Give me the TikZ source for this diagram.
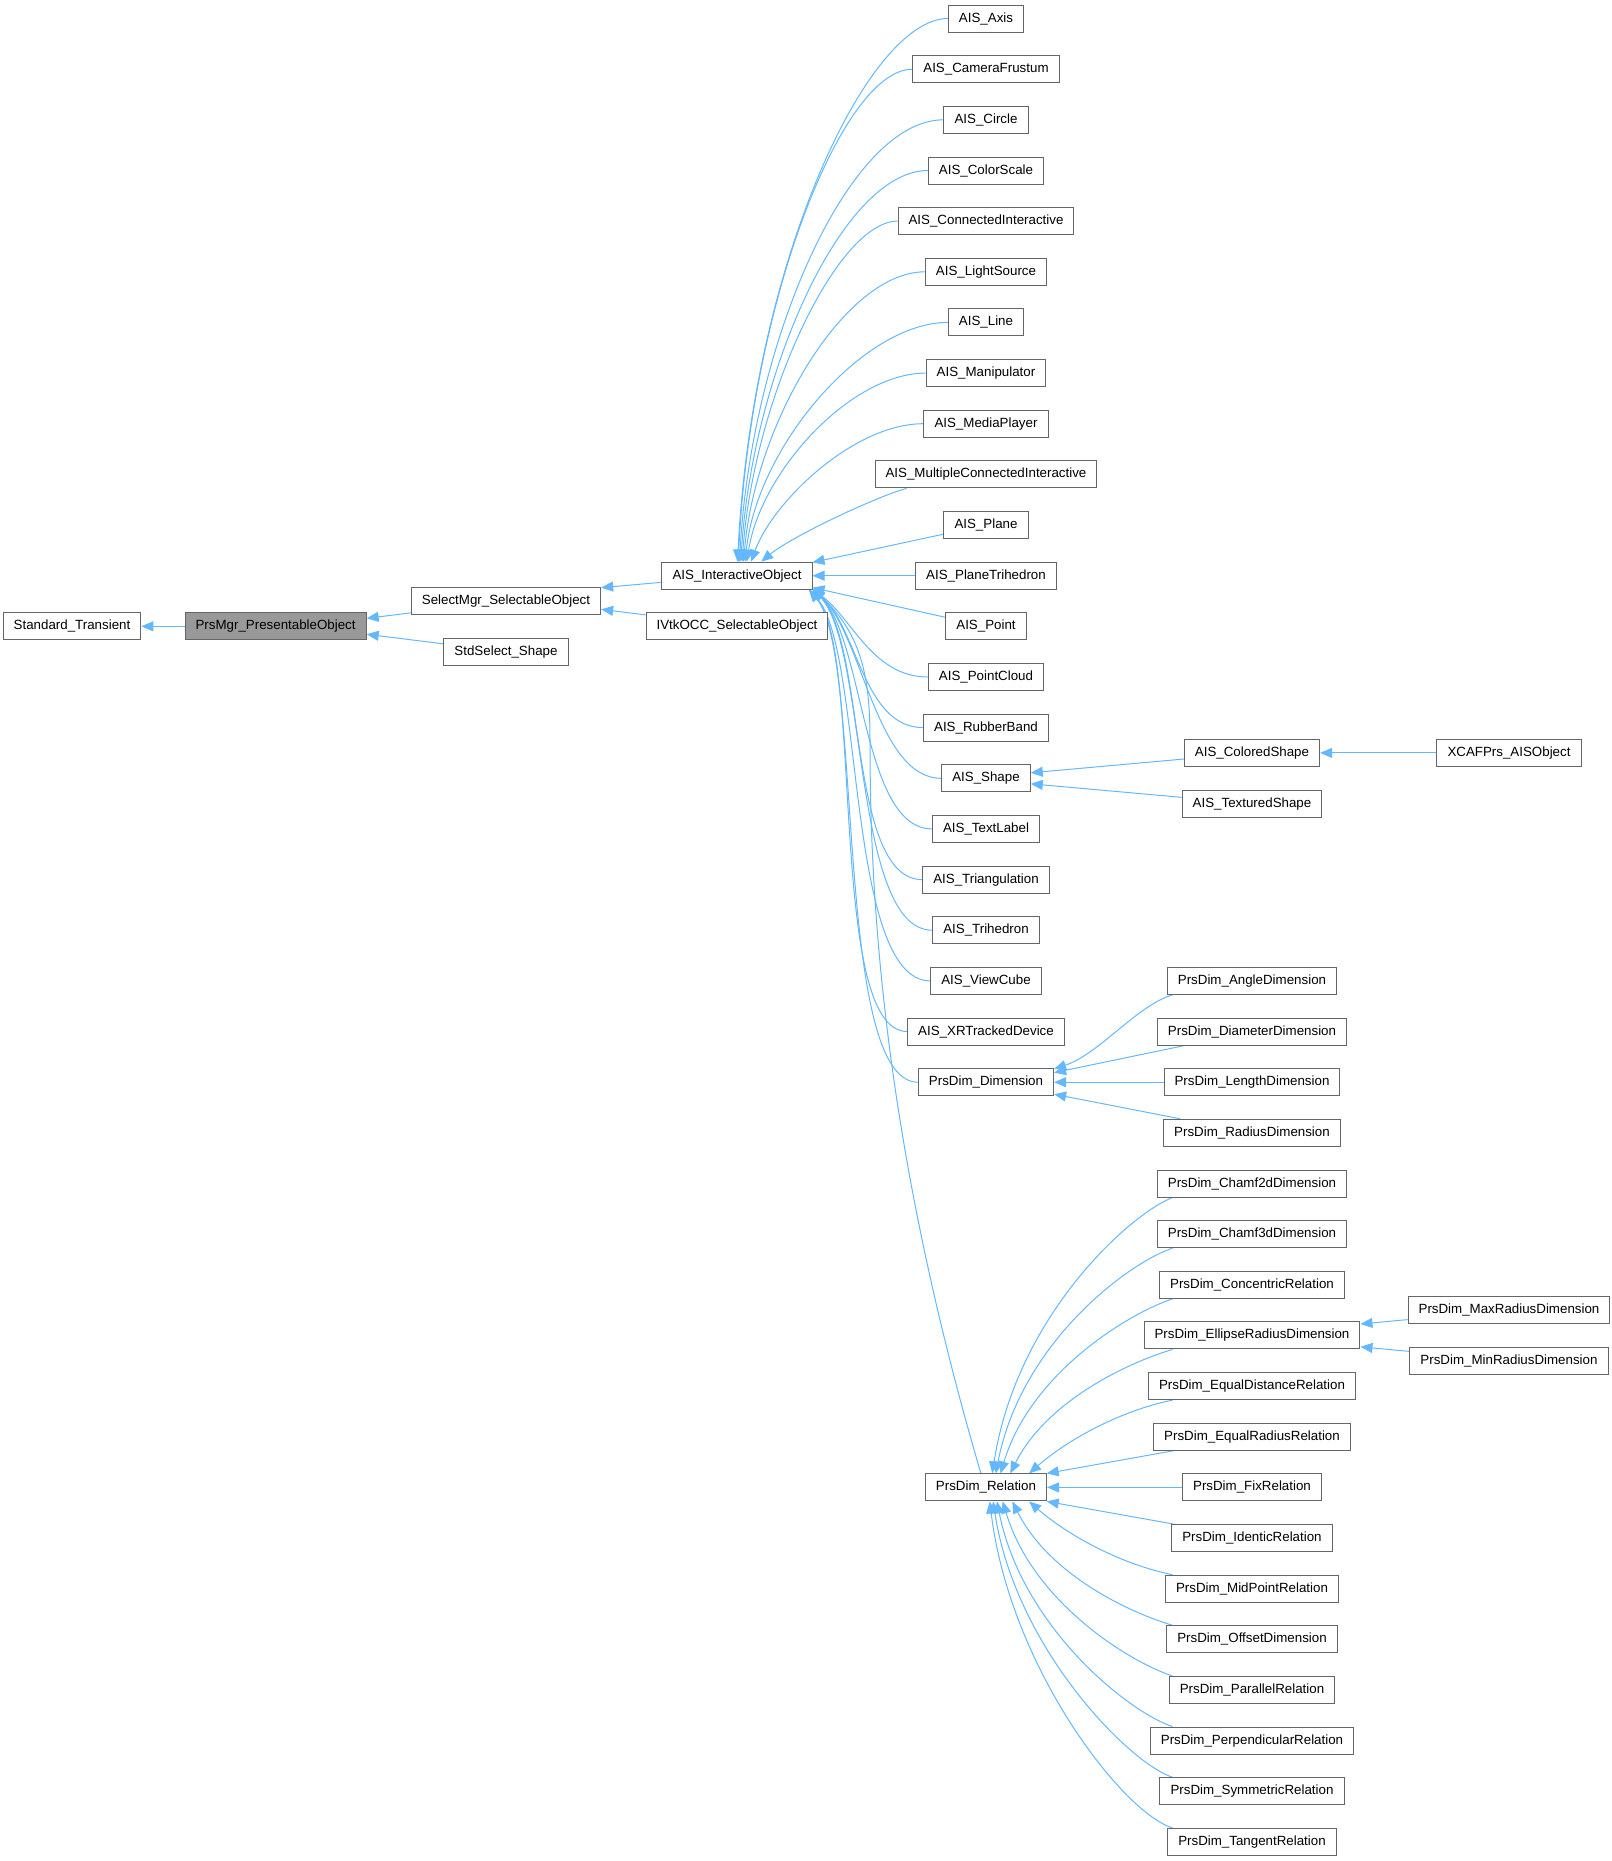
\documentclass[tikz,border=0pt]{standalone}
\usepackage{fontspec}
\setmainfont{Liberation Sans}
\usetikzlibrary{arrows.meta,backgrounds}
\definecolor{boxgray}{HTML}{666666}
\definecolor{focusgray}{HTML}{999999}
\definecolor{edgeblue}{HTML}{63B8FF}

\begin{document}
\begin{tikzpicture}[x=0.75pt,y=-0.75pt,
  cls/.style={draw=boxgray, line width=0.75pt, fill=white, minimum height=20.25pt,
    inner xsep=7.9pt, inner ysep=0pt, font=\fontsize{10}{12}\selectfont},
  focus/.style={cls, fill=focusgray},
  inh/.style={draw=edgeblue, line width=0.75pt, -{Triangle[length=9pt,width=7.5pt]}}]
\useasboundingbox (0,0) rectangle (1612,1861);

% left part
\node[cls] (st) at (72,626.3) {Standard\_Transient};
\node[focus] (prs) at (275.6,626.3) {PrsMgr\_PresentableObject};
\node[cls] (sel) at (506,601.0) {SelectMgr\_SelectableObject};
\node[cls] (ssh) at (506,651.6) {StdSelect\_Shape};
\node[cls] (aisio) at (737,575.7) {AIS\_InteractiveObject};
\node[cls] (ivtk) at (737,626.3) {IVtkOCC\_SelectableObject};

% AIS classes
\node[cls] (axis) at (986,18.5) {AIS\_Axis};
\node[cls] (cam) at (986,69.2) {AIS\_CameraFrustum};
\node[cls] (circ) at (986,119.8) {AIS\_Circle};
\node[cls] (cscale) at (986,170.5) {AIS\_ColorScale};
\node[cls] (conn) at (986,221.1) {AIS\_ConnectedInteractive};
\node[cls] (light) at (986,271.8) {AIS\_LightSource};
\node[cls] (line) at (986,322.4) {AIS\_Line};
\node[cls] (manip) at (986,373.1) {AIS\_Manipulator};
\node[cls] (media) at (986,423.7) {AIS\_MediaPlayer};
\node[cls] (mconn) at (986,474.4) {AIS\_MultipleConnectedInteractive};
\node[cls] (plane) at (986,525.0) {AIS\_Plane};
\node[cls] (ptri) at (986,575.7) {AIS\_PlaneTrihedron};
\node[cls] (point) at (986,626.3) {AIS\_Point};
\node[cls] (pcloud) at (986,677.0) {AIS\_PointCloud};
\node[cls] (rband) at (986,727.6) {AIS\_RubberBand};
\node[cls] (shape) at (986,778.3) {AIS\_Shape};
\node[cls] (tlabel) at (986,828.9) {AIS\_TextLabel};
\node[cls] (triang) at (986,879.6) {AIS\_Triangulation};
\node[cls] (trih) at (986,930.2) {AIS\_Trihedron};
\node[cls] (vcube) at (986,980.9) {AIS\_ViewCube};
\node[cls] (xrdev) at (986,1031.5) {AIS\_XRTrackedDevice};
\node[cls] (dim) at (986,1082.2) {PrsDim\_Dimension};
\node[cls] (rel) at (986,1487.4) {PrsDim\_Relation};

% next level
\node[cls] (cshape) at (1252,752.9) {AIS\_ColoredShape};
\node[cls] (tshape) at (1252,803.6) {AIS\_TexturedShape};
\node[cls] (angdim) at (1252,980.9) {PrsDim\_AngleDimension};
\node[cls] (diadim) at (1252,1031.5) {PrsDim\_DiameterDimension};
\node[cls] (lendim) at (1252,1082.2) {PrsDim\_LengthDimension};
\node[cls] (raddim) at (1252,1132.8) {PrsDim\_RadiusDimension};
\node[cls] (chamf2) at (1252,1183.5) {PrsDim\_Chamf2dDimension};
\node[cls] (chamf3) at (1252,1234.1) {PrsDim\_Chamf3dDimension};
\node[cls] (conc) at (1252,1284.8) {PrsDim\_ConcentricRelation};
\node[cls] (ellr) at (1252,1335.4) {PrsDim\_EllipseRadiusDimension};
\node[cls] (eqdist) at (1252,1386.1) {PrsDim\_EqualDistanceRelation};
\node[cls] (eqrad) at (1252,1436.7) {PrsDim\_EqualRadiusRelation};
\node[cls] (fix) at (1252,1487.4) {PrsDim\_FixRelation};
\node[cls] (ident) at (1252,1538.0) {PrsDim\_IdenticRelation};
\node[cls] (midp) at (1252,1588.7) {PrsDim\_MidPointRelation};
\node[cls] (offs) at (1252,1639.3) {PrsDim\_OffsetDimension};
\node[cls] (para) at (1252,1690.0) {PrsDim\_ParallelRelation};
\node[cls] (perp) at (1252,1740.6) {PrsDim\_PerpendicularRelation};
\node[cls] (symm) at (1252,1791.3) {PrsDim\_SymmetricRelation};
\node[cls] (tang) at (1252,1841.9) {PrsDim\_TangentRelation};

% last level
\node[cls] (xcaf) at (1509,752.9) {XCAFPrs\_AISObject};
\node[cls] (maxr) at (1509,1310.1) {PrsDim\_MaxRadiusDimension};
\node[cls] (minr) at (1509,1360.7) {PrsDim\_MinRadiusDimension};

\coordinate (relbend) at (870,740);

\begin{pgfonlayer}{background}
% inheritance, left part
\draw[inh] (prs) -- (st);
\draw[inh] (sel) -- (prs.5);
\draw[inh] (ssh) -- (prs.-5);
\draw[inh] (aisio) -- (sel.8);
\draw[inh] (ivtk) -- (sel.-5);

% into AIS_InteractiveObject from above
\draw[inh] (axis.west) .. controls +(-80,0) and +(15,-300) .. (aisio.88);
\draw[inh] (cam.west) .. controls +(-70,0) and +(12,-260) .. (aisio.85);
\draw[inh] (circ.west) .. controls +(-95,0) and +(12,-220) .. (aisio.80);
\draw[inh] (cscale.west) .. controls +(-85,0) and +(12,-190) .. (aisio.75);
\draw[inh] (conn.west) .. controls +(-60,0) and +(12,-165) .. (aisio.70);
\draw[inh] (light.west) .. controls +(-80,0) and +(12,-140) .. (aisio.65);
\draw[inh] (line.west) .. controls +(-85,0) and +(12,-115) .. (aisio.60);
\draw[inh] (manip.west) .. controls +(-75,0) and +(14,-90) .. (aisio.55);
\draw[inh] (media.west) .. controls +(-70,0) and +(22,-60) .. (aisio.45);
\draw[inh] (mconn.190) .. controls +(-30,8) and +(30,-25) .. (aisio.30);
\draw[inh] (plane) -- (aisio.10);
\draw[inh] (ptri) -- (aisio);
\draw[inh] (point) -- (aisio.-9);

% into AIS_InteractiveObject from below
\draw[inh] (pcloud.west) .. controls +(-55,0) and +(40,30) .. (aisio.-10.3);
\draw[inh] (rband.west) .. controls +(-60,0) and +(45,38) .. (aisio.-10.3);
\draw[inh] (shape.west) .. controls +(-65,0) and +(50,45) .. (aisio.-10.5);
\draw[inh] (tlabel.west) .. controls +(-70,0) and +(52,50) .. (aisio.-10.5);
\draw[inh] (triang.west) .. controls +(-75,0) and +(54,54) .. (aisio.-10.8);
\draw[inh] (trih.west) .. controls +(-80,0) and +(55,57) .. (aisio.-10.8);
\draw[inh] (vcube.west) .. controls +(-85,0) and +(55,60) .. (aisio.-11);
\draw[inh] (xrdev.west) .. controls +(-80,0) and +(55,62) .. (aisio.-11);
\draw[inh] (dim.west) .. controls +(-85,0) and +(55,65) .. (aisio.-11.2);
\draw[inh] (rel.110) .. controls +(-100,-340) and +(0,150) .. (relbend)
  .. controls +(0,-60) and +(50,45) .. (aisio.-10.5);

% AIS_Shape
\draw[inh] (cshape) -- (shape.7);
\draw[inh] (tshape) -- (shape.-7);
\draw[inh] (xcaf) -- (cshape);

% PrsDim_Dimension
\draw[inh] (angdim.190) .. controls +(-35,10) and +(45,-15) .. (dim.11);
\draw[inh] (diadim) -- (dim.8);
\draw[inh] (lendim) -- (dim);
\draw[inh] (raddim) -- (dim.-10);

% PrsDim_Relation
\draw[inh] (chamf2.190) .. controls +(-40,15) and +(25,-160) .. (rel.66);
\draw[inh] (chamf3.190) .. controls +(-45,15) and +(25,-130) .. (rel.55);
\draw[inh] (conc.190) .. controls +(-45,15) and +(30,-100) .. (rel.44);
\draw[inh] (ellr.190) .. controls +(-50,15) and +(35,-70) .. (rel.30);
\draw[inh] (eqdist.190) .. controls +(-50,10) and +(40,-35) .. (rel.18);
\draw[inh] (eqrad) -- (rel.13);
\draw[inh] (fix) -- (rel);
\draw[inh] (ident) -- (rel.-13);
\draw[inh] (midp.170) .. controls +(-50,-10) and +(40,35) .. (rel.-18);
\draw[inh] (offs.170) .. controls +(-50,-15) and +(35,70) .. (rel.-28);
\draw[inh] (para.170) .. controls +(-45,-15) and +(30,100) .. (rel.-40);
\draw[inh] (perp.170) .. controls +(-45,-15) and +(25,125) .. (rel.-52);
\draw[inh] (symm.170) .. controls +(-45,-15) and +(22,145) .. (rel.-63);
\draw[inh] (tang.170) .. controls +(-50,-15) and +(20,165) .. (rel.-75);
\draw[inh] (maxr) -- (ellr.6);
\draw[inh] (minr) -- (ellr.-6);
\end{pgfonlayer}
\end{tikzpicture}
\end{document}
